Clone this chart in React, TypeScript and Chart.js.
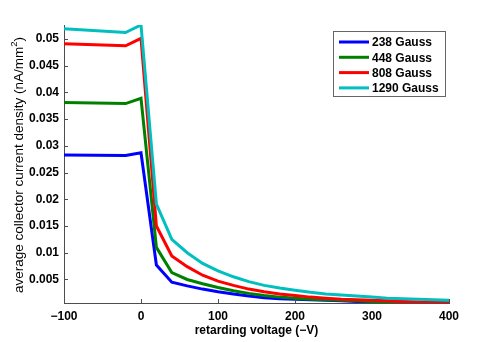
import React, { useEffect, useRef } from "react";
import { Chart, registerables } from "chart.js";

Chart.register(...registerables);

const xValues = [-100, -20, 0, 20, 40, 60, 80, 100, 120, 140, 160, 180, 200, 220, 240, 260, 280, 300, 320, 340, 360, 380, 400];
const seriesNames = ["238 Gauss", "448 Gauss", "808 Gauss", "1290 Gauss"];
const blue238 = [0.0283, 0.0282, 0.0287, 0.0077, 0.0045, 0.0038, 0.0032, 0.0027, 0.0023, 0.0019, 0.0016, 0.0014, 0.0013, 0.0012, 0.0011, 0.0010, 0.0009, 0.0008, 0.0008, 0.0007, 0.0007, 0.0006, 0.0006];
const green448 = [0.0381, 0.0379, 0.0389, 0.0110, 0.0063, 0.0050, 0.0042, 0.0035, 0.0029, 0.0024, 0.0020, 0.0017, 0.0015, 0.0013, 0.0012, 0.0011, 0.0010, 0.0009, 0.0008, 0.0008, 0.0007, 0.0007, 0.0006];
const red808 = [0.0491, 0.0487, 0.0501, 0.0150, 0.0094, 0.0074, 0.0058, 0.0047, 0.0039, 0.0032, 0.0027, 0.0023, 0.0020, 0.0017, 0.0015, 0.0013, 0.0012, 0.0011, 0.0010, 0.0009, 0.0008, 0.0007, 0.00065];
const cyan1290 = [0.0519, 0.0512, 0.0526, 0.0191, 0.0125, 0.0100, 0.0080, 0.0066, 0.0055, 0.0046, 0.0039, 0.0034, 0.0030, 0.0026, 0.0023, 0.0021, 0.0019, 0.0017, 0.0015, 0.0014, 0.0013, 0.0012, 0.0011];
const seriesColors = ["#0000ff", "#008000", "#ff0000", "#00bfbf"];

const xTicks = [-100, 0, 100, 200, 300, 400];
const xTickLabels = ["\u2212100", "0", "100", "200", "300", "400"];
const yTicks = [0.005, 0.01, 0.015, 0.02, 0.025, 0.03, 0.035, 0.04, 0.045, 0.05];
const yTickLabels = ["0.005", "0.01", "0.015", "0.02", "0.025", "0.03", "0.035", "0.04", "0.045", "0.05"];
const xTitle = "retarding voltage (\u2212V)";
const yTitleMain = "average collector current density (nA/mm";
const yTitleSup = "2";
const yTitleEnd = ")";

const FONT = "'Liberation Sans', Arial, Helvetica, sans-serif";
const AXIS_COLOR = "#4d4d4d";

const inwardTicks = {
  id: "inwardTicks",
  afterDraw(chart: any) {
    const { ctx, chartArea, scales } = chart;
    ctx.save();
    ctx.strokeStyle = AXIS_COLOR;
    ctx.lineWidth = 1;
    ctx.beginPath();
    for (const v of yTicks) {
      const y = Math.round(scales.y.getPixelForValue(v)) + 0.5;
      ctx.moveTo(chartArea.left, y);
      ctx.lineTo(chartArea.left + 4, y);
    }
    for (const v of xTicks) {
      const x = Math.round(scales.x.getPixelForValue(v)) + 0.5;
      ctx.moveTo(x, chartArea.bottom);
      ctx.lineTo(x, chartArea.bottom - 4);
    }
    ctx.stroke();
    ctx.restore();
  },
};

const yTitlePlugin = {
  id: "yTitlePlugin",
  afterDraw(chart: any) {
    const { ctx, chartArea } = chart;
    const mainFont = `13.5px ${FONT}`;
    const supFont = `9.5px ${FONT}`;
    ctx.save();
    ctx.font = mainFont;
    const w1 = ctx.measureText(yTitleMain).width;
    const w3 = ctx.measureText(yTitleEnd).width;
    ctx.font = supFont;
    const w2 = ctx.measureText(yTitleSup).width;
    const total = w1 + w2 + w3;
    const cy = (chartArea.top + chartArea.bottom) / 2 + 1;
    ctx.translate(19, cy);
    ctx.rotate(-Math.PI / 2);
    ctx.fillStyle = "#000";
    ctx.textBaseline = "middle";
    ctx.textAlign = "left";
    let x = -total / 2;
    ctx.font = mainFont;
    ctx.fillText(yTitleMain, x, 0);
    x += w1;
    ctx.font = supFont;
    ctx.fillText(yTitleSup, x, -5);
    x += w2;
    ctx.font = mainFont;
    ctx.fillText(yTitleEnd, x, 0);
    ctx.restore();
  },
};

const boxLegend = {
  id: "boxLegend",
  afterDraw(chart: any) {
    const { ctx } = chart;
    const left = 333.5, top = 31.5, w = 112, h = 65;
    ctx.save();
    ctx.fillStyle = "#ffffff";
    ctx.fillRect(left, top, w, h);
    ctx.strokeStyle = "#666666";
    ctx.lineWidth = 1;
    ctx.strokeRect(left, top, w, h);
    ctx.font = `bold 12px ${FONT}`;
    ctx.textBaseline = "middle";
    ctx.textAlign = "left";
    seriesNames.forEach((name, i) => {
      const y = 42 + i * 15.3;
      ctx.strokeStyle = seriesColors[i];
      ctx.lineWidth = 3;
      ctx.beginPath();
      ctx.moveTo(339, y);
      ctx.lineTo(369, y);
      ctx.stroke();
      ctx.fillStyle = "#000000";
      ctx.fillText(name, 372, y + 1);
    });
    ctx.restore();
  },
};

export default function App() {
  const ref = useRef<HTMLCanvasElement>(null);
  useEffect(() => {
    if (!ref.current) return;
    const allSeries = [blue238, green448, red808, cyan1290];
    const chart = new Chart(ref.current, {
      type: "line",
      data: {
        datasets: allSeries.map((s, i) => ({
          label: seriesNames[i],
          data: xValues.map((x, j) => ({ x, y: s[j] })),
          borderColor: seriesColors[i],
          backgroundColor: seriesColors[i],
          borderWidth: 3,
          pointRadius: 0,
          tension: 0,
          fill: false,
          order: 3 - i,
        })),
      },
      options: {
        animation: false,
        responsive: false,
        events: [],
        layout: { padding: { left: 0, right: 49, top: 25, bottom: 0 } },
        plugins: { legend: { display: false }, tooltip: { enabled: false } },
        scales: {
          x: {
            type: "linear",
            min: -100,
            max: 400,
            afterBuildTicks: (s: any) => { s.ticks = xTicks.map((v) => ({ value: v })); },
            afterFit: (s: any) => { s.height = 39; },
            grid: { display: true, drawOnChartArea: false, drawTicks: false },
            border: { display: true, color: AXIS_COLOR, width: 1 },
            ticks: {
              color: "#000",
              padding: 6,
              maxRotation: 0,
              font: { family: FONT, size: 12, weight: "bold" },
              callback: (_v: any, i: number) => xTickLabels[i],
            },
            title: {
              display: true,
              text: xTitle,
              color: "#000",
              font: { family: FONT, size: 12, weight: "bold" },
              padding: { top: 0, bottom: 4 },
            },
          },
          y: {
            type: "linear",
            min: 0.0006,
            max: 0.0526,
            afterBuildTicks: (s: any) => { s.ticks = yTicks.map((v) => ({ value: v })); },
            afterFit: (s: any) => { s.width = 64; },
            grid: { display: true, drawOnChartArea: false, drawTicks: false },
            border: { display: true, color: AXIS_COLOR, width: 1 },
            ticks: {
              color: "#000",
              padding: 5,
              font: { family: FONT, size: 12, weight: "bold" },
              callback: (_v: any, i: number) => yTickLabels[i],
            },
            title: { display: false },
          },
        },
      },
      plugins: [inwardTicks, yTitlePlugin, boxLegend],
    });
    return () => chart.destroy();
  }, []);
  return (
    <div style={{ position: "fixed", left: 0, top: 0, width: 498, height: 342, background: "#fff" }}>
      <canvas ref={ref} width={498} height={342} style={{ display: "block" }} />
    </div>
  );
}
